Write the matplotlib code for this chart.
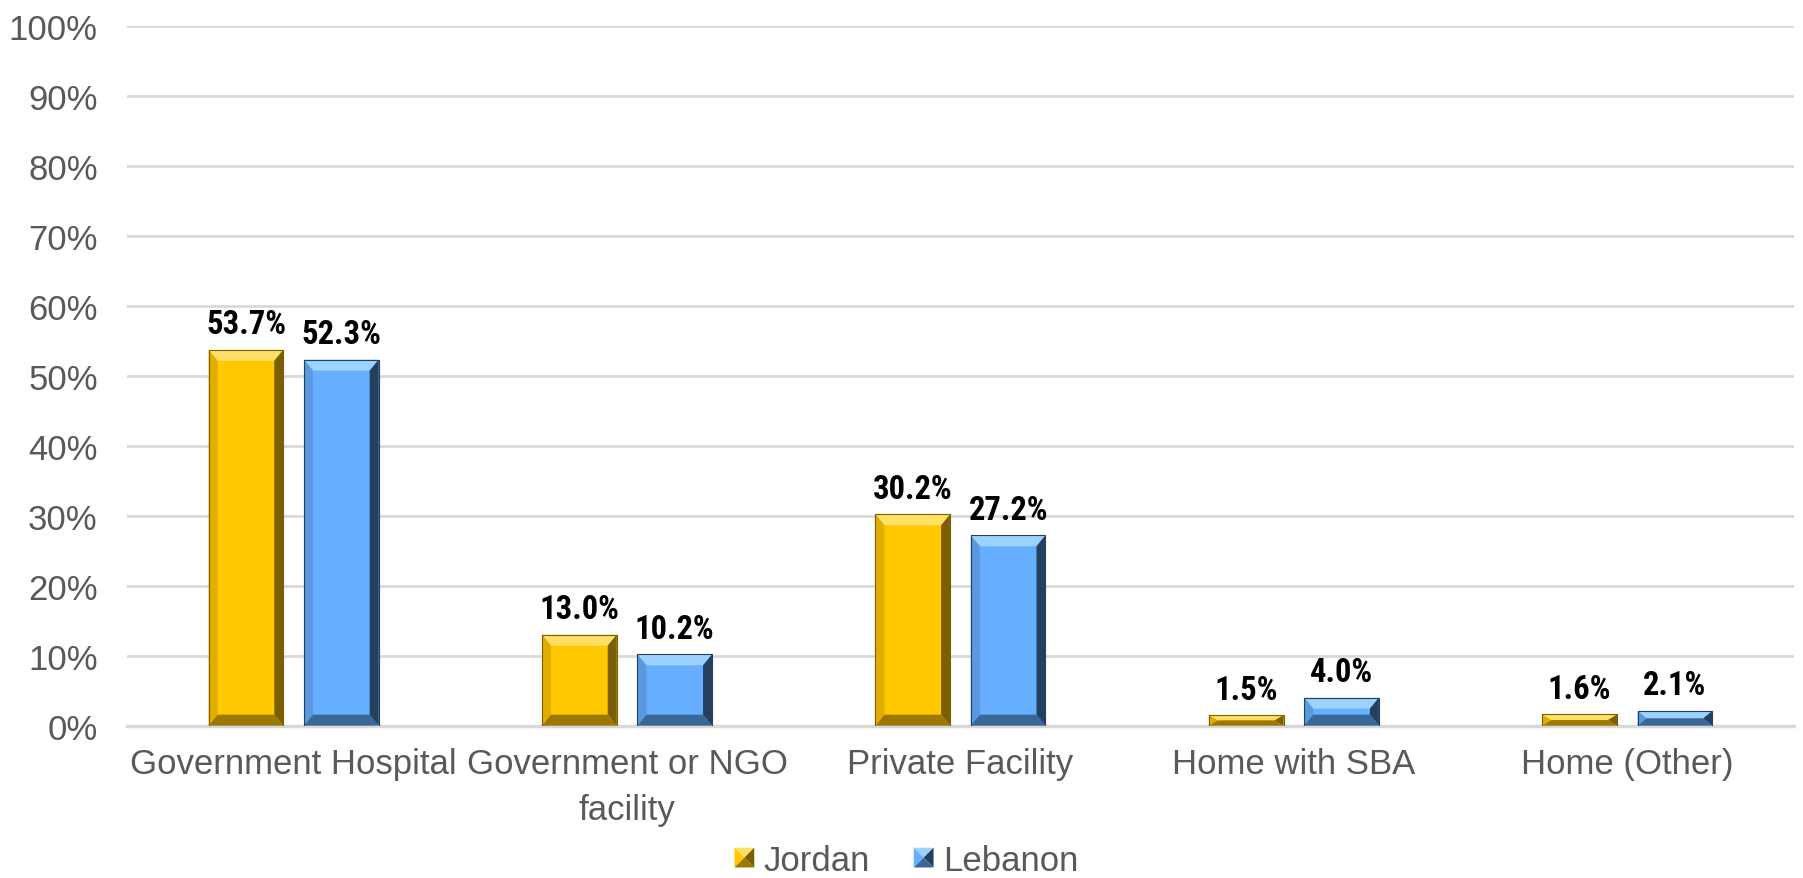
import matplotlib.pyplot as plt
from matplotlib.patches import Polygon, Rectangle
from matplotlib.legend_handler import HandlerBase
import numpy as np

plt.rcParams['font.family'] = ['Liberation Sans', 'DejaVu Sans']

categories = ["Government Hospital", "Government or NGO\nfacility", "Private Facility",
              "Home with SBA", "Home (Other)"]
jordan = [53.7, 13.0, 30.2, 1.5, 1.6]
lebanon = [52.3, 10.2, 27.2, 4.0, 2.1]
series = ["Jordan", "Lebanon"]

# face, top, left, right, bottom shades for the bevelled bars
shades = {
    "Jordan": ["#FFC800", "#FFE066", "#E0AE00", "#7A5E00", "#9C7800"],
    "Lebanon": ["#66AEFF", "#9DD2FF", "#5A98E0", "#23405F", "#3A6896"],
}

fig = plt.figure(figsize=(18.03, 8.79), dpi=100)
ax = fig.add_axes([0.0704, 0.1733, 0.9246, 0.7963])

x = np.arange(len(categories))
width = 0.224
gap = 0.062
offsets = [-(width + gap) / 2, (width + gap) / 2]

ax.set_xlim(-0.5, len(categories) - 0.5)
ax.set_ylim(0, 100)


def bevel(ax, patch, colors, px=10):
    # split a bar into a bevelled face: top, left, right and bottom strips
    x0, y0 = patch.get_x(), patch.get_y()
    w, h = patch.get_width(), patch.get_height()
    inv = ax.transData.inverted()
    p0 = inv.transform(ax.transData.transform((0, 0)))
    p1 = inv.transform(ax.transData.transform((0, 0)) + np.array([px * 0.9, px * 1.1]))
    bx = p1[0] - p0[0]
    by = min(p1[1] - p0[1], h / 2)
    x1, y1 = x0 + w, y0 + h
    face, top, left, right, bottom = colors
    polys = [
        ([(x0, y1), (x1, y1), (x1 - bx, y1 - by), (x0 + bx, y1 - by)], top),
        ([(x0, y0), (x0, y1), (x0 + bx, y1 - by), (x0 + bx, y0 + by)], left),
        ([(x1, y0), (x1, y1), (x1 - bx, y1 - by), (x1 - bx, y0 + by)], right),
        ([(x0, y0), (x1, y0), (x1 - bx, y0 + by), (x0 + bx, y0 + by)], bottom),
    ]
    for pts, c in polys:
        ax.add_patch(Polygon(pts, closed=True, facecolor=c, edgecolor="none", zorder=3))
    ax.add_patch(Rectangle((x0, y0), w, h, fill=False, edgecolor=right, lw=0.8, zorder=4))


for name, vals, off in zip(series, [jordan, lebanon], offsets):
    bars = ax.bar(x + off, vals, width, color=shades[name][0], zorder=2, label=name)
    for b in bars:
        bevel(ax, b, shades[name])
    for xi, v in zip(x + off, vals):
        ax.annotate(f"{v:.1f}%", (xi, v), xytext=(0, 12), textcoords="offset points",
                    ha="center", va="baseline", fontsize=23.5, fontweight="bold",
                    color="black", family=["Roboto Condensed", "Liberation Sans"])

ax.set_yticks(np.arange(0, 101, 10))
ax.set_yticklabels([f"{t}%" for t in range(0, 101, 10)])
ax.set_xticks(x)
ax.set_xticklabels(categories, linespacing=1.5)
ax.tick_params(axis="both", length=0, labelsize=25, colors="#595959")
ax.tick_params(axis="y", pad=21)
ax.tick_params(axis="x", pad=15)
ax.yaxis.grid(True, color="#D9D9D9", lw=2)
ax.set_axisbelow(True)
for s in ["top", "right", "left"]:
    ax.spines[s].set_visible(False)
ax.spines["bottom"].set_color("#D9D9D9")
ax.spines["bottom"].set_linewidth(2.5)


class BevelSquare(HandlerBase):
    def __init__(self, colors):
        super().__init__()
        self.colors = colors

    def create_artists(self, legend, orig_handle, xdescent, ydescent, width, height,
                       fontsize, trans):
        s = height
        x0 = -xdescent + (width - s) / 2
        y0 = -ydescent + (height - s) / 2
        x1, y1 = x0 + s, y0 + s
        cx, cy = x0 + s / 2, y0 + s / 2
        face, top, left, right, bottom = self.colors
        arts = []
        for pts, c in [
            ([(x0, y1), (x1, y1), (cx, cy)], top),
            ([(x0, y0), (x0, y1), (cx, cy)], face),
            ([(x1, y0), (x1, y1), (cx, cy)], right),
            ([(x0, y0), (x1, y0), (cx, cy)], bottom),
        ]:
            arts.append(Polygon(pts, closed=True, facecolor=c, edgecolor="none",
                                transform=trans))
        return arts


handles = [Rectangle((0, 0), 1, 1) for _ in series]
leg = fig.legend(handles, series, loc="center", bbox_to_anchor=(0.503, 0.02), ncol=2,
                 frameon=False, fontsize=25, handlelength=0.5, handleheight=0.5,
                 handletextpad=0.3, columnspacing=1.3,
                 handler_map={handles[0]: BevelSquare(shades["Jordan"]),
                              handles[1]: BevelSquare(shades["Lebanon"])})
for t in leg.get_texts():
    t.set_color("#595959")

fig.savefig("out.png", dpi=100)
